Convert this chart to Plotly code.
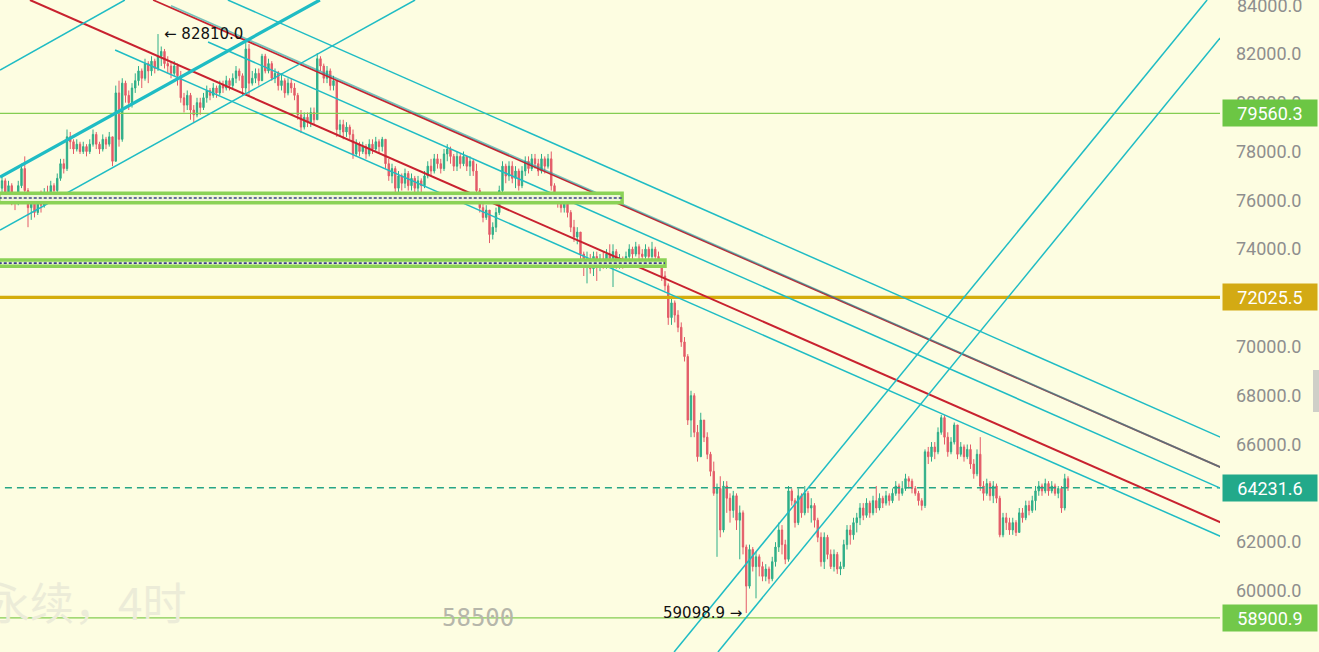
import plotly.graph_objects as go

BG = "#fdfde1"
UP = "#2eae88"
DOWN = "#e35b68"
CYAN = "#1fbcc4"
RED = "#c8222f"

# ---------------- candle data (4h) ----------------
open0 = 76500
close = [
    76800, 76300, 76600, 76100, 75900, 76600, 77300, 76400, 75700, 75900,
    75500, 76100, 75800, 76300, 76200, 76600, 76400, 76900, 77500, 77300,
    78600, 78400, 78100, 78300, 78000, 78200, 78000, 78300, 78700, 78300,
    78100, 78500, 78300, 78600, 77600, 80400, 78500, 80800, 80300, 80000,
    80600, 80900, 81300, 81000, 81600, 81300, 81700, 81400, 81900, 82100,
    81600, 81500, 81200, 81500, 81100, 80200, 79900, 80300, 79700, 79500,
    80000, 79800, 80200, 80500, 80300, 80600, 80400, 80700, 80600, 80900,
    80700, 81000, 81300, 81100, 80600, 82200, 80800, 81000, 81200, 80900,
    81900, 81300, 81600, 81000, 81200, 80700, 80900, 80400, 80800, 80600,
    80300, 79500, 79000, 79400, 79200, 79600, 79300, 81800, 81500, 81000,
    81300, 80700, 80900, 78900, 79100, 78800, 79000, 78700, 77900, 78300,
    78000, 78200, 77900, 78300, 78100, 78400, 78200, 78500, 77500, 77000,
    77300, 76500, 77000, 76700, 77100, 76600, 76900, 76500, 76800, 76600,
    77000, 77400, 77200, 77700, 77500, 77300, 77900, 78100, 77800, 77400,
    77800, 77500, 77800, 77400, 77600, 77200, 76400, 75700, 75300, 75600,
    74600, 74900, 75500, 76400, 77400, 77000, 77400, 76900, 77200, 76600,
    77200, 77600, 77300, 77700, 77500, 77200, 77700, 77400, 77700, 76600,
    76200, 76000, 75700, 76000, 75500, 74900, 74500, 74700, 73800, 73300,
    73600, 73200, 73700, 73300, 73600, 73400, 73800, 73500, 73900, 73400,
    73600, 73400, 73700, 74000, 73800, 74100, 73800, 73700, 74000, 73700,
    74000, 73700, 73400, 72900, 72500, 71200, 71800, 71300, 70800, 70200,
    69600, 67000, 68000, 66500, 65500, 67000, 66300, 65600, 64900, 64000,
    64200, 62500, 64300, 63800, 63300, 63900, 62900, 63200, 61800, 60200,
    61700, 61000, 61400, 61000, 60600, 60900, 60500, 61200, 61800, 62500,
    61900, 61300, 64100, 63700, 62800, 63900, 63200, 64000, 63400, 63500,
    62900, 62200, 61200, 62200, 61500, 61000, 61500, 60900, 61000, 61900,
    62500, 62300, 62800, 63000, 63400, 63100, 63600, 63200, 63700, 63400,
    63800, 63600, 63900, 63700, 64000, 64300, 64000, 64200, 64600, 64500,
    64200, 64000, 63700, 63500, 65700, 65500, 65900, 65700, 66500, 67100,
    66300, 65700, 66100, 66800, 65600, 65900, 65500, 65800, 65200, 64800,
    65600, 64300, 64000, 64400, 63900, 64300, 63800, 62300, 63000, 62800,
    62500, 62800, 62400, 63200, 63000, 63500, 63300, 63700, 64100, 64300,
    64100, 64400, 64100, 64300, 64000, 64200, 63400, 64600, 64231.6,
]
high = [
    77000, 76900, 76800, 76700, 76300, 76800, 77500, 77800, 76500, 76200,
    76100, 76300, 76400, 76500, 76600, 76800, 76700, 77100, 77700, 77700,
    78900, 78800, 78500, 78500, 78400, 78400, 78300, 78500, 78900, 78800,
    78400, 78700, 78600, 78800, 78600, 80700, 80900, 81000, 80900, 80500,
    80800, 81200, 81500, 81400, 81800, 81700, 81900, 81800, 82810, 82300,
    82200, 81900, 81700, 81700, 81600, 81300, 80400, 80500, 80400, 79900,
    80200, 80200, 80400, 80700, 80600, 80800, 80700, 80900, 80900, 81100,
    81000, 81200, 81500, 81400, 81200, 82480, 82400, 81300, 81400, 81400,
    82000, 82000, 81800, 81700, 81400, 81300, 81200, 81000, 81000, 81000,
    80800, 80400, 79700, 79600, 79600, 79800, 79800, 82030, 81900, 81600,
    81500, 81400, 81100, 80900, 79300, 79300, 79200, 79100, 78900, 78500,
    78400, 78400, 78300, 78500, 78500, 78600, 78500, 78600, 78500, 77700,
    77500, 77400, 77200, 77100, 77300, 77200, 77100, 77000, 77000, 76900,
    77200, 77600, 77700, 77900, 77900, 77700, 78100, 78300, 78200, 77900,
    78000, 77900, 78000, 77800, 77800, 77700, 77500, 76500, 75900, 75800,
    75600, 75100, 75700, 76600, 77600, 77500, 77600, 77600, 77400, 77300,
    77400, 77800, 77800, 77900, 77900, 77700, 77900, 77800, 77900, 78000,
    76700, 76300, 76100, 76200, 76100, 75600, 75200, 74900, 74700, 73900,
    73900, 73800, 73900, 73900, 73800, 73900, 74000, 74200, 74200, 74000,
    73800, 73700, 73900, 74200, 74100, 74300, 74200, 74000, 74200, 74100,
    74300, 74100, 73900, 73500, 73100, 72600, 72000, 71900, 71500, 71000,
    70400, 69700, 68200, 68100, 66800, 67300, 67000, 66500, 65700, 65300,
    64400, 64700, 64500, 64500, 64000, 64100, 64000, 63500, 63300, 61900,
    61900, 61800, 61600, 61500, 61200, 61100, 61000, 61400, 62000, 62800,
    62700, 62100, 64300, 64200, 63800, 64200, 64000, 64300, 64100, 63800,
    63600, 63000, 62400, 62400, 62300, 61700, 61700, 61600, 61200, 62100,
    62700, 62700, 63000, 63200, 63600, 63600, 63800, 63700, 63900, 64300,
    64000, 63900, 64100, 64000, 64200, 64500, 64400, 64500, 64800, 64700,
    64600, 64300, 64100, 63800, 65800, 65900, 66100, 66100, 66700, 67210,
    67200, 66500, 66300, 66900, 66800, 66100, 66000, 66000, 66000, 65400,
    65800, 66300, 64500, 64600, 64500, 64500, 64400, 63900, 63200, 63200,
    63000, 63000, 62900, 63400, 63400, 63700, 63700, 63900, 64300, 64500,
    64400, 64600, 64500, 64500, 64400, 64300, 64300, 64800, 64700,
]
low = [
    76300, 76100, 76000, 75800, 75600, 75800, 76500, 76200, 74900, 75200,
    75300, 75400, 75500, 75700, 76000, 76100, 76200, 76300, 76800, 77100,
    77200, 78100, 77900, 78000, 77900, 77900, 77800, 77900, 78200, 78100,
    77900, 78000, 78100, 78200, 77400, 77600, 78200, 78400, 80000, 79700,
    79800, 80400, 80700, 80600, 80900, 80800, 81100, 81200, 81300, 81500,
    81400, 81200, 81000, 81100, 80700, 80000, 79600, 79700, 79300, 79200,
    79400, 79500, 79700, 80000, 80100, 80200, 80200, 80300, 80400, 80500,
    80500, 80600, 80800, 80900, 80300, 80300, 80300, 80700, 80800, 80700,
    80900, 81200, 81200, 80900, 80800, 80500, 80500, 80200, 80300, 80400,
    80100, 79300, 78760, 78900, 79000, 79000, 79100, 79300, 81300, 80800,
    80800, 80500, 80500, 78600, 78600, 78500, 78600, 78500, 77700, 77800,
    77800, 77900, 77700, 77800, 77900, 78000, 77900, 78000, 77300, 76800,
    76700, 76050, 76300, 76400, 76500, 76400, 76400, 76300, 76300, 76300,
    76500, 76900, 77000, 77100, 77300, 77100, 77200, 77600, 77500, 77200,
    77200, 77300, 77400, 77200, 77000, 77000, 76200, 75500, 75100, 75200,
    74250, 74400, 74700, 75400, 76300, 76700, 76800, 76700, 76500, 76400,
    76500, 77000, 77100, 77200, 77300, 77000, 77100, 77100, 77300, 76400,
    75900, 75700, 75500, 75500, 75300, 74700, 74300, 74200, 73300, 72900,
    72600, 73000, 72900, 72700, 73100, 73200, 73200, 73300, 72450, 73200,
    73200, 73200, 73300, 73500, 73600, 73700, 73600, 73500, 73600, 73500,
    73600, 73500, 73300, 72700, 72300, 70900, 70900, 71000, 70600, 70000,
    69400, 66800, 66300, 66300, 65300, 65500, 66100, 65400, 64700, 63900,
    61400, 62200, 62400, 63200, 62800, 63000, 62500, 61300, 61500, 59098.9,
    60100, 60800, 59700, 60600, 60400, 60400, 60300, 60400, 61000, 61600,
    61500, 61100, 61200, 63500, 62600, 62700, 63000, 63100, 63200, 62800,
    62600, 62000, 61000, 60900, 61300, 60900, 60800, 60700, 60650, 60900,
    61700, 61900, 62100, 62400, 62700, 62900, 63000, 63000, 63100, 63200,
    63300, 63400, 63500, 63500, 63600, 63900, 63700, 63900, 64100, 64200,
    64000, 63900, 63500, 63300, 63400, 65200, 65300, 65400, 65600, 66400,
    66000, 65500, 65600, 66000, 65400, 65500, 65300, 65400, 65000, 64600,
    64700, 64100, 63700, 63900, 63700, 63600, 63600, 62200, 62200, 62500,
    62300, 62300, 62250, 62400, 62800, 62900, 63100, 63200, 63300, 63900,
    63900, 64000, 63900, 64000, 63900, 63800, 63200, 63300, 64100,
]
bars = list(range(len(close)))
opens = [open0] + close[:-1]

# ---------------- drawn levels ----------------
level_upper_green = 79560.3
level_gold = 72025.5
level_last = 64231.6
level_lower_green = 58900.9
band_upper = (75900, 76290)       # green zone with dotted mid line
band_upper_end = 190.8
band_lower = (73300, 73560)
band_lower_end = 204.0
swing_high_bar, swing_high = 48, 82810.0
swing_low_bar, swing_low = 229, 59098.9

# descending channel lines: (bar0, price0, bar1, price1)
red_main = (8.6, 84205, 375, 62810)
red_second = (46.5, 84205, 375, 65067)
red_second_overlay = (52.0, 83970, 375, 65067)
cyan_top = (69.5, 84205, 375, 66295)
cyan_mid = (63.4, 82485, 375, 64207)
cyan_low = (34.8, 82157, 375, 62233)
# rising lines on the left
rise_thick = (-0.6, 76956, 97.8, 84205)
rise_upper = (-0.6, 81338, 37.8, 84205)
rise_lower = (-0.6, 74785, 127.1, 84205)
# rising channel from the low
rise_right_a = (206.8, 57502, 370.8, 84205)
rise_right_b = (220.3, 57502, 374.8, 82648)

y_ticks = [60000, 62000, 66000, 68000, 70000, 74000, 76000, 78000, 80000, 82000]
top_tick = 84000
x_range = [-0.615, 374.77]
y_range = [57502, 84205]

fig = go.Figure()
fig.add_trace(go.Candlestick(
    x=bars, open=opens, high=high, low=low, close=close,
    increasing=dict(line=dict(color=UP, width=1), fillcolor=UP),
    decreasing=dict(line=dict(color=DOWN, width=1), fillcolor=DOWN),
    whiskerwidth=0, hoverinfo="skip", showlegend=False,
))


def seg(p, color, width, dash=None, opacity=1.0):
    fig.add_trace(go.Scatter(
        x=[p[0], p[2]], y=[p[1], p[3]], mode="lines",
        line=dict(color=color, width=width, dash=dash),
        opacity=opacity, hoverinfo="skip", showlegend=False,
    ))


# horizontal levels
seg((-1, level_upper_green, 380, level_upper_green), "#84cd52", 1.4)
seg((-1, level_gold, 380, level_gold), "#d4ad0c", 3.2)
seg((-1, level_lower_green, 380, level_lower_green), "#84cd52", 1.4)
seg((0.9, level_last, 380, level_last), "#26a586", 1.5, dash="7px,5px")

# trend lines
for p in (cyan_top, cyan_mid, cyan_low):
    seg(p, CYAN, 1.5)
seg(red_main, RED, 2)
seg(red_second, RED, 1.7)
seg(red_second_overlay, "#1c9ca3", 1.7, opacity=0.6)
seg(rise_thick, CYAN, 3.2)
seg(rise_upper, CYAN, 1.5)
seg(rise_lower, CYAN, 1.5)
seg(rise_right_a, CYAN, 1.5)
seg(rise_right_b, CYAN, 1.5)

# zones
shapes = []
for (lo, hi), end in ((band_upper, band_upper_end), (band_lower, band_lower_end)):
    shapes.append(dict(type="rect", xref="x", yref="y", x0=-1, x1=end, y0=lo, y1=hi,
                       fillcolor="#eef7d6", line=dict(color="#8bd256", width=3.5), layer="above"))
    mid = (lo + hi) / 2
    shapes.append(dict(type="line", xref="x", yref="y", x0=-1, x1=end, y0=mid, y1=mid,
                       line=dict(color="#3d3f8c", width=1.6, dash="3px,2px"), layer="above"))
# scroll tab at right edge
shapes.append(dict(type="rect", xref="paper", yref="paper", x0=1313 / 1220, x1=1319 / 1220,
                   y0=1 - 412 / 652, y1=1 - 370 / 652, fillcolor="#cfcfc8", line=dict(width=0)))

annotations = []
annotations.append(dict(
    xref="paper", x=1, xanchor="left", xshift=15, yref="y", y=top_tick, yanchor="middle",
    text=f"{top_tick:.1f}", showarrow=False, font=dict(family="Roboto", size=18, color="#8e8e8e"),
))
for val, colr in ((level_upper_green, "#6cc644"), (level_gold, "#d3aa14"),
                  (level_last, "#22a98a"), (level_lower_green, "#72c84a")):
    annotations.append(dict(
        xref="paper", x=1, xanchor="left", xshift=2, yref="y", y=val, yanchor="middle",
        text=f"{val:.1f}", showarrow=False, bgcolor=colr, width=90, height=22, borderpad=2,
        align="center", font=dict(family="Roboto", size=18, color="white"),
    ))
annotations.append(dict(
    x=swing_high_bar, y=swing_high, xref="x", yref="y", xanchor="left", yanchor="middle", xshift=4,
    text=f"\u2190 {swing_high:.1f}", showarrow=False, font=dict(family="DejaVu Sans", size=15, color="#111111"),
))
annotations.append(dict(
    x=swing_low_bar, y=swing_low, xref="x", yref="y", xanchor="right", yanchor="middle", xshift=-2,
    text=f"{swing_low:.1f} \u2192", showarrow=False, font=dict(family="DejaVu Sans", size=15, color="#111111"),
))
annotations.append(dict(
    xref="paper", yref="paper", x=188 / 1220, y=1 - 601 / 652, xanchor="right", yanchor="middle",
    text="永续，4时", showarrow=False,
    font=dict(family="Noto Sans CJK SC", size=44, color="#ececd8"),
))
annotations.append(dict(
    x=146.5, y=level_lower_green, xref="x", yref="y", xanchor="center", yanchor="middle",
    text="58500", showarrow=False,
    font=dict(family="DejaVu Sans Mono", size=24, color="#b6b6aa"),
))

fig.update_layout(
    width=1319, height=652,
    margin=dict(l=0, r=99, t=0, b=0),
    paper_bgcolor=BG, plot_bgcolor=BG,
    showlegend=False, boxgap=0.4,
    xaxis=dict(range=x_range, visible=False, rangeslider=dict(visible=False), fixedrange=True),
    yaxis=dict(range=y_range, side="right", showgrid=False, zeroline=False, showline=False,
               tickvals=y_ticks, ticktext=[f"{v:.1f}" for v in y_ticks], ticks="",
               ticklabelstandoff=15, tickfont=dict(family="Roboto", size=18, color="#8e8e8e")),
    shapes=shapes, annotations=annotations,
)

fig.write_html("out.html")
